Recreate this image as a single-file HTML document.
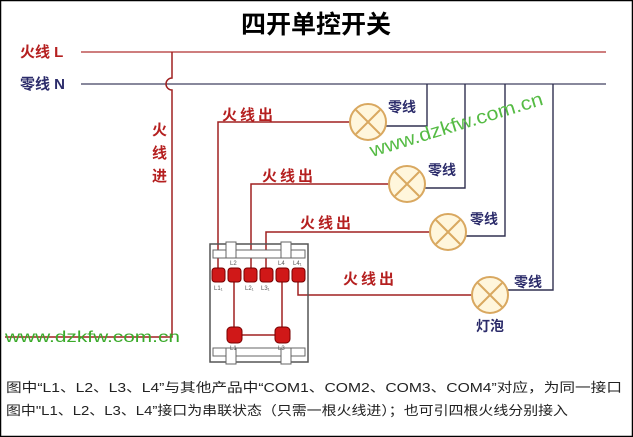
<!DOCTYPE html>
<html><head><meta charset="utf-8"><style>
body{margin:0;width:633px;height:437px;overflow:hidden;background:#fff;font-family:"Liberation Sans","Noto Sans CJK SC",sans-serif}
svg{position:absolute;left:0;top:0}
</style></head><body>
<svg width="633" height="437" viewBox="0 0 633 437" font-family="Liberation Sans, Noto Sans CJK SC, sans-serif">
<rect x="0.5" y="0.5" width="632" height="436" fill="#fff" stroke="#000" stroke-width="1.5"/>
<text x="316" y="33" text-anchor="middle" font-size="25" font-weight="bold" fill="#000">四开单控开关</text>
<text x="20" y="57" font-size="15" font-weight="bold" fill="#b52020">火线 L</text>
<text x="20" y="89" font-size="15" font-weight="bold" fill="#2b2b6a">零线 N</text>
<line x1="81" y1="52" x2="606" y2="52" stroke="#b03030" stroke-width="1.3"/>
<line x1="81" y1="84" x2="606" y2="84" stroke="#404060" stroke-width="1.3"/>
<path d="M172 52 V78 A6 6 0 0 0 172 90 V337 H5" fill="none" stroke="#a02020" stroke-width="1.5"/>
<text x="152" y="135" font-size="15" font-weight="bold" fill="#b52020">火</text>
<text x="152" y="158" font-size="15" font-weight="bold" fill="#b52020">线</text>
<text x="152" y="181" font-size="15" font-weight="bold" fill="#b52020">进</text>
<g fill="none" stroke="#303050" stroke-width="1.4">
<path d="M386 126 H427 V84"/><path d="M425 188 H465 V84"/><path d="M466 236 H505 V84"/><path d="M508 290 H553 V84"/>
</g>
<g fill="none" stroke="#a02020" stroke-width="1.5">
<path d="M350 122 H218 V272"/><path d="M389 184 H251 V272"/><path d="M430 232 H266 V272"/><path d="M298 275 V295 H472"/>
<path d="M234 275 V335 H282 V275"/>
</g>
<g font-size="15" font-weight="bold" fill="#b52020" letter-spacing="3">
<text x="222" y="120">火线出</text><text x="262" y="181">火线出</text><text x="300" y="228">火线出</text><text x="343" y="284">火线出</text>
</g>
<g font-size="14" font-weight="bold" fill="#2b2b6a">
<text x="388" y="112">零线</text><text x="428" y="175">零线</text><text x="470" y="224">零线</text><text x="514" y="287">零线</text>
<text x="476" y="331">灯泡</text>
</g>
<g stroke="#d9a860" stroke-width="2" fill="#fff6dc">
<circle cx="368" cy="122" r="18"/><circle cx="407" cy="184" r="18"/><circle cx="448" cy="232" r="18"/><circle cx="490" cy="295" r="18"/>
</g>
<g stroke="#d9a860" stroke-width="2">
<path d="M356 110 L380 134 M380 110 L356 134"/><path d="M395 172 L419 196 M419 172 L395 196"/><path d="M436 220 L460 244 M460 220 L436 244"/><path d="M478 283 L502 307 M502 283 L478 307"/>
</g>
<rect x="210" y="244" width="98" height="118" fill="none" stroke="#555" stroke-width="1.5"/>
<g fill="#fff" stroke="#666"><rect x="213" y="250" width="92" height="8"/><rect x="213" y="348" width="92" height="8"/>
<rect x="226" y="242" width="10" height="16"/><rect x="281" y="242" width="10" height="16"/><rect x="226" y="348" width="10" height="16"/><rect x="281" y="348" width="10" height="16"/></g>
<g fill="#d01818" stroke="#700" stroke-width="1">
<rect x="212" y="268" width="13" height="14" rx="3"/><rect x="228" y="268" width="13" height="14" rx="3"/><rect x="244" y="268" width="13" height="14" rx="3"/><rect x="260" y="268" width="13" height="14" rx="3"/><rect x="276" y="268" width="13" height="14" rx="3"/><rect x="292" y="268" width="13" height="14" rx="3"/>
<rect x="227" y="327" width="15" height="16" rx="4"/><rect x="275" y="327" width="15" height="16" rx="4"/>
</g>
<g font-size="6" fill="#555"><text x="230" y="265">L2</text><text x="278" y="265">L4</text><text x="293" y="265">L4₁</text>
<text x="214" y="290">L1₁</text><text x="245" y="290">L2₁</text><text x="261" y="290">L3₁</text><text x="230" y="350">L1</text><text x="278" y="350">L3</text></g>
<text x="5" y="342" font-size="16" fill="#3aaa2a" textLength="175" lengthAdjust="spacingAndGlyphs">www.dzkfw.com.cn</text>
<text x="372" y="157" font-size="19" fill="#55bb44" transform="rotate(-17 372 157)" textLength="180" lengthAdjust="spacingAndGlyphs">www.dzkfw.com.cn</text>
<text x="6" y="392" font-size="13" fill="#222" textLength="616" lengthAdjust="spacingAndGlyphs">图中“L1、L2、L3、L4”与其他产品中“COM1、COM2、COM3、COM4”对应，为同一接口</text>
<text x="6" y="415" font-size="13" fill="#222" textLength="562" lengthAdjust="spacingAndGlyphs">图中"L1、L2、L3、L4”接口为串联状态（只需一根火线进）；也可引四根火线分别接入</text>
</svg>
</body></html>
